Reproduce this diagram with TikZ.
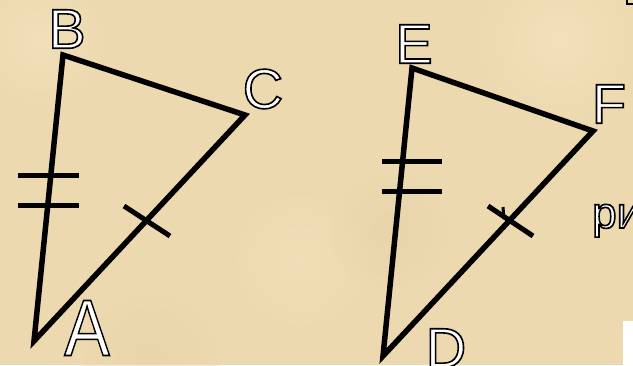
\documentclass[tikz,border=0pt]{standalone}
\usepackage{fontspec}
\setmainfont{Liberation Sans}
\definecolor{paper}{RGB}{236,217,176}
\definecolor{paperlight}{RGB}{246,230,192}
\definecolor{paperdark}{RGB}{228,206,163}
\tikzset{
  side/.style={line width=5.5pt, line join=miter, miter limit=20},
  tick/.style={line width=5pt},
  lbl/.style={inner sep=0pt, text=white, font=\fontsize{56}{56}\selectfont},
}
\newcommand{\olbl}[1]{\special{pdf:literal direct 2 Tr 1.6 w 0 G}#1\special{pdf:literal direct 0 Tr}}
\begin{document}
\begin{tikzpicture}[x=1pt,y=-1pt]
\useasboundingbox (0,0) rectangle (633,365);
\fill[paper] (0,0) rectangle (633,365);
\shade[inner color=paperlight, outer color=paper, opacity=0.6] (560,40) circle (90);
\shade[inner color=paperlight, outer color=paper, opacity=0.5] (40,40) circle (70);
\shade[inner color=paperlight, outer color=paper, opacity=0.4] (300,260) circle (80);
\shade[inner color=paperdark, outer color=paper, opacity=0.4] (390,230) circle (60);
\shade[inner color=paperdark, outer color=paper, opacity=0.35] (150,360) circle (70);
% first triangle
\coordinate (B) at (63,55);
\coordinate (C) at (245,115);
\coordinate (A) at (34,341);
\draw[side] (A) -- (B) -- (C) -- cycle;
\coordinate (t1a) at (18,175); \coordinate (t1b) at (79,175);
\coordinate (t2a) at (18,205); \coordinate (t2b) at (79,205);
\draw[tick] (t1a) -- (t1b);
\draw[tick] (t2a) -- (t2b);
\coordinate (t3a) at (124,206); \coordinate (t3b) at (170,236);
\draw[tick] (t3a) -- (t3b);
% second triangle
\coordinate (E) at (412,68);
\coordinate (F) at (593,131);
\coordinate (D) at (383,356);
\draw[side] (D) -- (E) -- (F) -- cycle;
\coordinate (u1a) at (382,161); \coordinate (u1b) at (442,161);
\coordinate (u2a) at (382,191); \coordinate (u2b) at (442,191);
\draw[tick] (u1a) -- (u1b);
\draw[tick] (u2a) -- (u2b);
\coordinate (u3a) at (488,206); \coordinate (u3b) at (533,236);
\draw[tick] (u3a) -- (u3b);
\coordinate (s1) at (503,207); \coordinate (s2) at (504,219);
\draw[line width=3pt] (s1) -- (s2);
% labels
\node[lbl] (lB) at (67,29) {\olbl{B}};
\node[lbl] (lC) at (263,89) {\olbl{C}};
\node[lbl, font=\fontsize{80}{80}\selectfont, xscale=0.85] (lA) at (87,328) {\olbl{A}};
\node[lbl] (lE) at (414,44) {\olbl{E}};
\node[lbl] (lF) at (609,104) {\olbl{F}};
\node[lbl] (lD) at (446,348) {\olbl{D}};
\node[lbl, anchor=base west, font=\fontsize{44}{44}\selectfont] (lri) at (592,228) {\olbl{ри}};
% edge details
\coordinate (k1) at (627,0); \coordinate (k2) at (627,4); \coordinate (k3) at (634,4);
\draw[line width=2pt] (k1) -- (k2) -- (k3);
\fill[white] (623,321) rectangle (634,366);
\end{tikzpicture}
\end{document}
